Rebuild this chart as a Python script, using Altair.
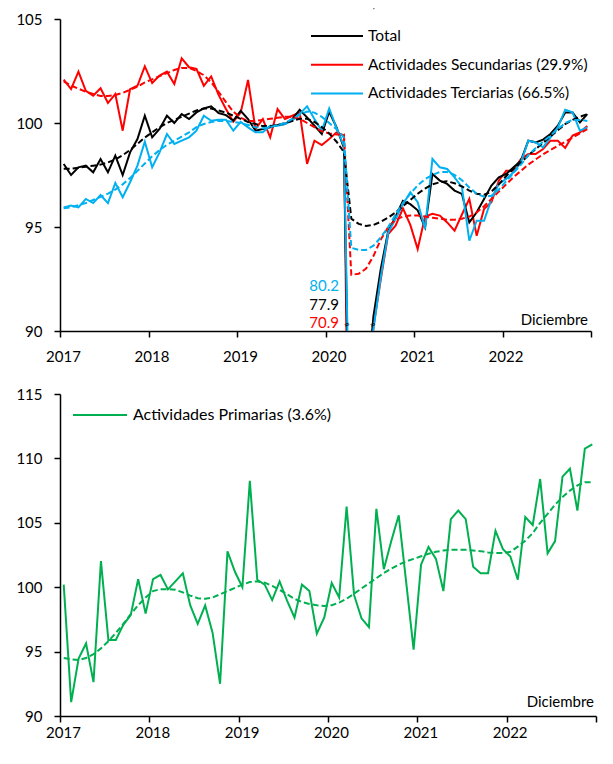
import altair as alt
import pandas as pd

FONT = "Lato"

# ---------------- data (monthly, Jan 2017 .. Dec 2022) ----------------
total = [98.03, 97.5, 97.87, 97.95, 97.63, 98.27, 97.63, 98.43, 97.5, 98.59, 99.23, 100.35,
         99.31, 99.71, 100.35, 100.0, 100.43, 100.19, 100.51, 100.7, 100.8, 100.48, 100.38, 100.11,
         100.59, 100.19, 99.63, 99.71, 99.79, 99.9, 99.95, 100.19, 100.64, 100.27, 99.87, 99.47,
         100.54, 99.79, 98.8, 77.9, 79.5, 86.8, 90.7, 93.0, 94.8, 95.5, 96.26, 96.1,
         95.8, 94.98, 97.55, 97.23, 97.07, 96.75, 96.59, 95.22, 95.71, 96.35, 96.99, 97.39,
         97.55, 97.87, 98.19, 99.15, 99.07, 99.2, 99.47, 99.87, 100.51, 100.51, 100.03, 100.43]
total_trend = [97.8, 97.8, 97.85, 97.9, 97.95, 98.0, 98.1, 98.25, 98.45, 98.7, 99.0, 99.3,
               99.55, 99.8, 100.0, 100.15, 100.3, 100.45, 100.6, 100.7, 100.7, 100.6, 100.5, 100.35,
               100.2, 100.05, 99.95, 99.85, 99.85, 99.9, 100.0, 100.1, 100.2, 100.2, 100.05, 99.8,
               99.5, 99.1, 98.6, 95.4, 95.15, 95.05, 95.1, 95.25, 95.45, 95.7, 96.0, 96.3,
               96.6, 96.85, 97.05, 97.15, 97.2, 97.1, 96.95, 96.75, 96.6, 96.55, 96.7, 97.05,
               97.45, 97.8, 98.1, 98.45, 98.75, 99.05, 99.35, 99.65, 99.95, 100.15, 100.3, 100.43]
secundarias = [102.08, 101.63, 102.47, 101.55, 101.31, 101.67, 100.96, 101.39, 99.63, 101.63, 101.79, 102.72,
               101.92, 102.28, 102.47, 101.88, 103.11, 102.68, 102.6, 101.79, 102.24, 101.35, 100.67, 100.06,
               100.5, 102.07, 99.71, 100.19, 99.31, 100.67, 100.19, 100.35, 100.51, 98.03, 99.15, 98.94,
               99.23, 99.55, 99.4, 70.9, 72.5, 84.5, 90.2, 92.5, 94.66, 95.06, 95.9, 95.1,
               93.94, 95.5, 95.63, 95.55, 95.22, 94.82, 95.6, 96.35, 94.58, 95.87, 96.19, 97.23,
               97.71, 97.71, 98.27, 98.51, 98.51, 98.75, 99.15, 99.15, 98.8, 99.4, 99.55, 99.85]
secundarias_trend = [102.0, 101.8, 101.65, 101.5, 101.4, 101.3, 101.3, 101.35, 101.45, 101.6, 101.75, 101.95,
                     102.1, 102.25, 102.4, 102.55, 102.65, 102.65, 102.5, 102.3, 101.95, 101.5, 101.0, 100.55,
                     100.25, 100.1, 100.1, 100.15, 100.2, 100.25, 100.3, 100.3, 100.2, 100.0, 99.8, 99.6,
                     99.5, 99.45, 99.45, 92.7, 92.75, 93.0, 93.6, 94.4, 95.0, 95.35, 95.5, 95.55,
                     95.55, 95.5, 95.45, 95.4, 95.35, 95.35, 95.4, 95.5, 95.7, 96.0, 96.35, 96.7,
                     97.05, 97.4, 97.7, 98.0, 98.25, 98.5, 98.7, 98.9, 99.1, 99.3, 99.5, 99.7]
terciarias = [95.94, 96.03, 95.94, 96.35, 96.15, 96.54, 96.15, 97.12, 96.43, 97.15, 97.95, 99.1,
              97.87, 98.59, 99.47, 98.99, 99.15, 99.31, 99.63, 100.35, 100.11, 100.16, 100.16, 99.63,
              100.05, 99.79, 99.55, 99.55, 99.87, 99.87, 99.95, 100.11, 100.43, 100.8, 100.19, 99.63,
              100.7, 99.75, 98.9, 80.2, 81.0, 87.5, 90.1, 92.6, 94.74, 95.38, 96.1, 96.67,
              96.19, 94.9, 98.27, 97.87, 97.79, 97.39, 96.91, 94.34, 95.3, 95.3, 96.35, 97.07,
              97.31, 97.63, 98.11, 99.15, 99.07, 98.83, 99.31, 99.79, 100.64, 100.51, 99.63, 99.79]
terciarias_trend = [95.9, 95.95, 96.05, 96.15, 96.3, 96.45, 96.6, 96.8, 97.05, 97.35, 97.7, 98.05,
                    98.4, 98.7, 98.95, 99.15, 99.35, 99.55, 99.8, 99.95, 100.05, 100.1, 100.1, 100.05,
                    100.0, 99.9, 99.8, 99.75, 99.8, 99.9, 100.0, 100.2, 100.4, 100.55, 100.5, 100.3,
                    100.0, 99.7, 99.3, 94.0, 93.9, 93.9, 94.1, 94.5, 95.0, 95.6, 96.15, 96.6,
                    97.0, 97.3, 97.5, 97.65, 97.65, 97.5, 97.25, 96.9, 96.6, 96.45, 96.5, 96.8,
                    97.2, 97.6, 98.0, 98.45, 98.8, 99.1, 99.4, 99.7, 100.0, 100.15, 100.15, 100.1]
primarias = [100.2, 91.08, 94.45, 95.63, 92.63, 102.03, 95.9, 95.9, 97.08, 97.83, 100.63, 97.95,
             100.63, 100.95, 99.83, 100.45, 101.08, 98.58, 97.15, 98.58, 96.45, 92.5, 102.78, 101.2,
             100.0, 108.25, 100.58, 100.2, 99.0, 100.45, 98.95, 97.65, 100.2, 99.7, 96.4, 97.65,
             100.33, 99.2, 106.25, 99.4, 97.58, 96.9, 106.08, 101.4, 103.58, 105.58, 100.4, 95.15,
             101.75, 103.13, 102.2, 99.7, 105.28, 105.95, 105.28, 101.58, 101.08, 101.08, 104.38, 102.95,
             102.38, 100.58, 105.45, 104.83, 108.4, 102.63, 103.58, 108.58, 109.2, 105.95, 110.75, 111.08]
primarias_trend = [94.5, 94.4, 94.35, 94.5, 94.8, 95.25, 95.8, 96.45, 97.15, 97.9, 98.6, 99.2,
                   99.7, 99.85, 99.85, 99.8, 99.6, 99.35, 99.15, 99.1, 99.2, 99.45, 99.7, 99.95,
                   100.2, 100.4, 100.45, 100.35, 100.1, 99.8, 99.45, 99.1, 98.85, 98.7, 98.6, 98.55,
                   98.6, 98.8, 99.1, 99.5, 99.9, 100.3, 100.7, 101.1, 101.45, 101.75, 102.0, 102.2,
                   102.4, 102.6, 102.75, 102.85, 102.9, 102.9, 102.9, 102.85, 102.8, 102.7, 102.65, 102.65,
                   102.75, 103.15, 103.6, 104.2, 105.0, 105.7, 106.4, 107.0, 107.5, 107.9, 108.15, 108.15]

top_names = ["Total", "Actividades Secundarias (29.9%)", "Actividades Terciarias (66.5%)"]
top_colors = ["#000000", "#FF0000", "#00B0F0"]
prim_name = "Actividades Primarias (3.6%)"
prim_color = "#00B050"
april_labels = ["80.2", "77.9", "70.9"]
april_colors = ["#00B0F0", "#000000", "#FF0000"]
title_text = "Índice 2018=100, a.e."
month_label = "Diciembre"
first_year = 2017
year_ticks = [-0.5, 11.5, 23.5, 35.5, 47.5, 59.5, 71.5]

n = len(total)
idx = list(range(n))

TOP_W, TOP_H = 531, 312
BOT_W, BOT_H = 536, 322


def series_df(real, trend):
    return pd.DataFrame({"i": idx, "real": real, "trend": trend})


def xenc(label_pad):
    return alt.X(
        "i:Q",
        scale=alt.Scale(domain=[-0.5, 71.5], nice=False, zero=False),
        axis=alt.Axis(
            values=year_ticks,
            labelExpr=f"datum.value < 71 ? '' + ({first_year} + round((datum.value + 0.5) / 12)) : ''",
            title=None, grid=False, domainColor="black", domainWidth=1.5,
            tickColor="black", tickWidth=1.5, tickSize=6, labelFontSize=15,
            labelFont=FONT, labelColor="black", labelPadding=label_pad, labelOffset=3,
            labelFlush=False, labelOverlap=False,
        ),
    )


def yenc(field, domain, values, min_extent):
    return alt.Y(
        field, type="quantitative",
        scale=alt.Scale(domain=domain, nice=False, zero=False),
        axis=alt.Axis(
            values=values, title=None, grid=False, domainColor="black", domainWidth=1.5,
            tickColor="black", tickWidth=1.5, tickSize=6, labelFontSize=15,
            labelFont=FONT, labelColor="black", labelPadding=12, minExtent=min_extent,
        ),
    )


def line_layers(df, color, ydomain, yvalues, min_extent, label_pad):
    solid = alt.Chart(df).mark_line(color=color, strokeWidth=2, clip=True).encode(
        x=xenc(label_pad), y=yenc("real", ydomain, yvalues, min_extent)
    )
    dashed = alt.Chart(df).mark_line(color=color, strokeWidth=2, strokeDash=[6, 3], clip=True).encode(
        x=xenc(label_pad), y=yenc("trend", ydomain, yvalues, min_extent)
    )
    return solid, dashed


TOP_DOM = [90, 105]
TOP_VALS = [90, 95, 100, 105]
BOT_DOM = [90, 115]
BOT_VALS = [90, 95, 100, 105, 110, 115]

top_series = [series_df(total, total_trend), series_df(secundarias, secundarias_trend),
              series_df(terciarias, terciarias_trend)]
solids, dashes = [], []
for df, col in zip(top_series, top_colors):
    s, d = line_layers(df, col, TOP_DOM, TOP_VALS, 50, 12)
    solids.append(s)
    dashes.append(d)
top_lines = [solids[1], solids[0], solids[2], dashes[1], dashes[0], dashes[2]]

# legend (top)
top_legend = []
for k, (name, col) in enumerate(zip(top_names, top_colors)):
    ld = pd.DataFrame({"t": [name]})
    yy = 17 + 28.7 * k
    top_legend.append(alt.Chart(ld).mark_rule(color=col, strokeWidth=2).encode(
        x=alt.value(251), x2=alt.value(303), y=alt.value(yy)))
    top_legend.append(alt.Chart(ld).mark_text(align="left", baseline="middle", font=FONT,
                                              fontSize=15.5, color="black").encode(
        x=alt.value(308), y=alt.value(yy), text="t:N"))

# April 2020 labels
ann = []
for k, (lab, col) in enumerate(zip(april_labels, april_colors)):
    ad = pd.DataFrame({"t": [lab]})
    ann.append(alt.Chart(ad).mark_text(align="right", baseline="middle", font=FONT, fontSize=15,
                                       color=col).encode(
        x=alt.value(279), y=alt.value([267, 286, 304][k]), text="t:N"))

# axis-break marks
brk = []
for bx in [287, 313]:
    brk.append(alt.Chart(pd.DataFrame({"t": ["="]})).mark_text(
        font=FONT, fontSize=10, angle=340, color="black").encode(
        x=alt.value(bx), y=alt.value(306), text="t:N"))

dic_top = alt.Chart(pd.DataFrame({"t": [month_label]})).mark_text(
    align="right", baseline="middle", font=FONT, fontSize=15, color="black").encode(
    x=alt.value(TOP_W - 3), y=alt.value(TOP_H - 11), text="t:N")

title_mark = alt.Chart(pd.DataFrame({"t": [title_text]})).mark_text(
    align="center", baseline="bottom", font=FONT, fontSize=18, color="#203864").encode(
    x=alt.value(262), y=alt.value(-8), text="t:N")

top = alt.layer(*top_lines, *top_legend, *ann, *brk, dic_top, title_mark).properties(
    width=TOP_W, height=TOP_H)

# bottom chart
pdf = series_df(primarias, primarias_trend)
ps, pdsh = line_layers(pdf, prim_color, BOT_DOM, BOT_VALS, 45, 3)
pleg_d = pd.DataFrame({"t": [prim_name]})
pleg_line = alt.Chart(pleg_d).mark_rule(color=prim_color, strokeWidth=2).encode(
    x=alt.value(13), x2=alt.value(67), y=alt.value(21))
pleg_text = alt.Chart(pleg_d).mark_text(align="left", baseline="middle", font=FONT, fontSize=16,
                                        color="black").encode(
    x=alt.value(73), y=alt.value(21), text="t:N")
dic_bot = alt.Chart(pd.DataFrame({"t": [month_label]})).mark_text(
    align="right", baseline="middle", font=FONT, fontSize=15, color="black").encode(
    x=alt.value(BOT_W - 2), y=alt.value(BOT_H - 14), text="t:N")

bottom = alt.layer(ps, pdsh, pleg_line, pleg_text, dic_bot).properties(width=BOT_W, height=BOT_H)

chart = alt.vconcat(top, bottom, spacing=23).properties(
    padding={"left": 2, "top": -15, "right": 0, "bottom": 0}
).configure_view(stroke=None)

chart.save("out.html", embed_options={"renderer": "svg", "actions": False})
